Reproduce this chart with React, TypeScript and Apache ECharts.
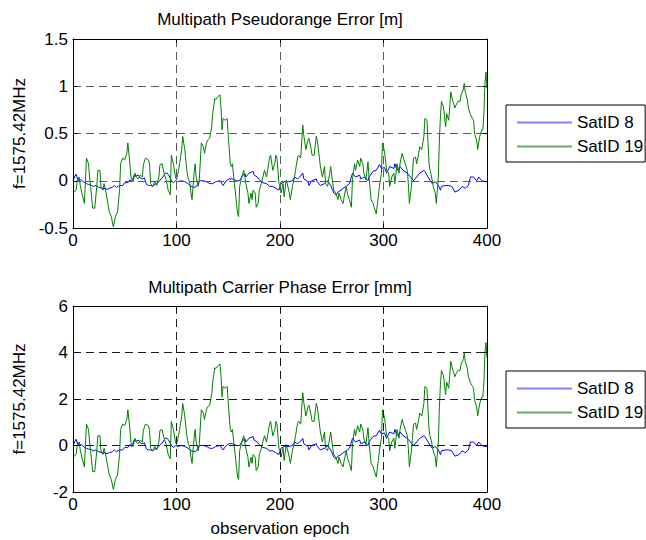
import React, { useEffect, useRef } from "react";
import * as echarts from "echarts";

// ---- data ----
const epochsGreen = [
  0, 3, 4, 6, 7, 9, 11, 13, 15, 16,
  17, 19, 21, 23, 24, 26, 27, 29, 30, 32,
  34, 35, 37, 39, 41, 43, 45, 46, 48, 50,
  52, 53, 55, 56, 58, 60, 61, 63, 65, 67,
  68, 70, 73, 74, 75, 77, 79, 81, 83, 84,
  86, 88, 90, 92, 94, 95, 97, 99, 100, 102,
  103, 105, 106, 108, 110, 111, 113, 114, 115, 117,
  118, 119, 121, 122, 124, 126, 127, 129, 130, 132,
  134, 135, 137, 138, 140, 142, 143, 144, 145, 147,
  149, 150, 152, 153, 154, 156, 158, 159, 160, 161,
  163, 165, 166, 167, 169, 170, 172, 173, 174, 176,
  177, 179, 180, 182, 183, 185, 187, 188, 190, 191,
  193, 195, 196, 197, 199, 200, 201, 203, 204, 206,
  207, 209, 210, 212, 214, 215, 217, 218, 220, 222,
  223, 225, 227, 228, 230, 231, 233, 235, 236, 238,
  239, 241, 243, 244, 246, 248, 249, 251, 252, 254,
  256, 257, 259, 261, 262, 264, 265, 267, 269, 270,
  272, 273, 275, 277, 278, 280, 281, 283, 285, 286,
  288, 290, 291, 293, 295, 296, 298, 299, 301, 303,
  305, 306, 308, 310, 311, 313, 315, 316, 318, 319,
  321, 323, 324, 325, 327, 328, 329, 331, 332, 334,
  335, 337, 339, 340, 342, 343, 344, 345, 347, 348,
  350, 351, 353, 354, 355, 356, 358, 360, 361, 363,
  364, 365, 367, 369, 370, 372, 374, 375, 377, 378,
  379, 381, 382, 384, 386, 387, 388, 390, 391, 393,
  395, 396, 397, 398, 399, 400,
];

const pseudoSat19 = [
  -0.13, -0.1, -0.01, 0.04, -0.05, -0.15, -0.24, 0.24, 0.18, 0.04,
  -0.06, -0.29, -0.29, -0.06, 0.11, 0.11, -0.06, -0.1, -0.03, -0.13,
  -0.26, -0.33, -0.38, -0.49, -0.38, -0.33, -0.1, 0.18, 0.24, 0.22,
  0.29, 0.4, 0.18, 0.04, -0.01, 0.08, 0.04, 0.02, 0.06, 0.04,
  0.17, 0.24, 0.22, 0.17, -0.03, -0.06, -0.01, -0.05, 0.04, 0.17,
  0.18, 0.08, 0.01, -0.1, -0.15, 0.27, 0.18, 0.04, 0.01, 0.11,
  0.18, 0.33, 0.47, 0.33, 0.11, 0.04, -0.03, -0.13, -0.2, 0.08,
  0.18, 0.04, -0.06, 0.01, 0.4, 0.36, 0.29, 0.4, 0.43, 0.45,
  0.57, 0.71, 0.87, 0.86, 0.89, 0.91, 0.78, 0.54, 0.66, 0.64,
  0.66, 0.47, 0.18, 0.15, 0.18, -0.03, -0.24, -0.35, -0.38, -0.06,
  0.04, 0.11, 0.04, -0.03, -0.13, -0.24, -0.13, -0.2, -0.1, -0.13,
  -0.28, -0.24, -0.1, -0.03, 0.02, 0.11, 0.04, 0.11, 0.25, 0.27,
  0.11, 0.18, 0.27, 0.25, -0.03, -0.06, -0.13, -0.03, -0.17, 0.01,
  -0.03, -0.13, -0.2, -0.06, 0.04, 0.11, 0.25, 0.27, 0.24, 0.59,
  0.48, 0.33, 0.43, 0.45, 0.34, 0.27, 0.27, 0.47, 0.43, 0.25,
  0.15, 0.04, 0.15, -0.03, -0.06, 0.08, 0.15, -0.03, -0.1, -0.13,
  -0.2, -0.13, -0.2, -0.24, -0.17, -0.06, -0.13, -0.2, -0.28, 0.01,
  0.18, 0.11, 0.22, 0.15, 0.24, 0.18, 0.08, 0.01, 0.2, 0.04,
  -0.2, -0.24, -0.28, -0.35, -0.17, -0.06, 0.08, 0.4, 0.31, 0.11,
  0.08, -0.06, 0.04, 0.08, -0.03, 0.18, 0.08, 0.18, 0.29, 0.25,
  0.18, 0.11, -0.03, -0.24, -0.06, 0.08, 0.24, 0.25, 0.18, 0.29,
  0.36, 0.33, 0.47, 0.66, 0.64, 0.4, 0.18, 0.11, 0.01, -0.06,
  -0.13, -0.24, 0.04, 0.43, 0.68, 0.84, 0.78, 0.57, 0.71, 0.64,
  0.78, 0.94, 0.84, 0.77, 0.8, 0.84, 0.84, 0.91, 0.96, 1.03,
  0.94, 0.86, 0.77, 0.7, 0.66, 0.64, 0.5, 0.43, 0.33, 0.47,
  0.54, 0.54, 0.71, 1.03, 1.15, 0.98,
];

const phaseSat19 = [
  -0.5, -0.39, -0.04, 0.15, -0.19, -0.58, -0.92, 0.92, 0.69, 0.15,
  -0.23, -1.12, -1.12, -0.23, 0.42, 0.42, -0.23, -0.39, -0.12, -0.5,
  -1.0, -1.27, -1.46, -1.89, -1.46, -1.27, -0.39, 0.69, 0.92, 0.85,
  1.12, 1.54, 0.69, 0.15, -0.04, 0.31, 0.15, 0.08, 0.23, 0.15,
  0.65, 0.92, 0.85, 0.65, -0.12, -0.23, -0.04, -0.19, 0.15, 0.65,
  0.69, 0.31, 0.04, -0.39, -0.58, 1.04, 0.69, 0.15, 0.04, 0.42,
  0.69, 1.27, 1.81, 1.27, 0.42, 0.15, -0.12, -0.5, -0.77, 0.31,
  0.69, 0.15, -0.23, 0.04, 1.54, 1.39, 1.12, 1.54, 1.66, 1.73,
  2.19, 2.73, 3.35, 3.31, 3.43, 3.5, 3.0, 2.08, 2.54, 2.46,
  2.54, 1.81, 0.69, 0.58, 0.69, -0.12, -0.92, -1.35, -1.46, -0.23,
  0.15, 0.42, 0.15, -0.12, -0.5, -0.92, -0.5, -0.77, -0.39, -0.5,
  -1.08, -0.92, -0.39, -0.12, 0.08, 0.42, 0.15, 0.42, 0.96, 1.04,
  0.42, 0.69, 1.04, 0.96, -0.12, -0.23, -0.5, -0.12, -0.65, 0.04,
  -0.12, -0.5, -0.77, -0.23, 0.15, 0.42, 0.96, 1.04, 0.92, 2.27,
  1.85, 1.27, 1.66, 1.73, 1.31, 1.04, 1.04, 1.81, 1.66, 0.96,
  0.58, 0.15, 0.58, -0.12, -0.23, 0.31, 0.58, -0.12, -0.39, -0.5,
  -0.77, -0.5, -0.77, -0.92, -0.65, -0.23, -0.5, -0.77, -1.08, 0.04,
  0.69, 0.42, 0.85, 0.58, 0.92, 0.69, 0.31, 0.04, 0.77, 0.15,
  -0.77, -0.92, -1.08, -1.35, -0.65, -0.23, 0.31, 1.54, 1.19, 0.42,
  0.31, -0.23, 0.15, 0.31, -0.12, 0.69, 0.31, 0.69, 1.12, 0.96,
  0.69, 0.42, -0.12, -0.92, -0.23, 0.31, 0.92, 0.96, 0.69, 1.12,
  1.39, 1.27, 1.81, 2.54, 2.46, 1.54, 0.69, 0.42, 0.04, -0.23,
  -0.5, -0.92, 0.15, 1.66, 2.62, 3.23, 3.0, 2.19, 2.73, 2.46,
  3.0, 3.62, 3.23, 2.96, 3.08, 3.23, 3.23, 3.5, 3.7, 3.97,
  3.62, 3.31, 2.96, 2.7, 2.54, 2.46, 1.93, 1.66, 1.27, 1.81,
  2.08, 2.08, 2.73, 3.97, 4.43, 3.77,
];

const epochsBlue = [
  0, 2, 3, 5, 8, 10, 13, 15, 18, 20,
  22, 25, 28, 30, 33, 35, 38, 40, 42, 45,
  48, 50, 53, 55, 57, 59, 61, 63, 65, 67,
  69, 71, 73, 75, 77, 79, 81, 83, 85, 87,
  89, 91, 93, 95, 97, 99, 101, 105, 108, 111,
  114, 118, 121, 122, 126, 129, 132, 135, 138, 142,
  145, 148, 151, 154, 158, 161, 163, 166, 167, 170,
  174, 175, 178, 180, 183, 187, 190, 193, 196, 199,
  201, 204, 209, 212, 214, 217, 220, 222, 223, 227,
  228, 230, 231, 235, 236, 239, 243, 246, 249, 252,
  254, 256, 259, 261, 264, 267, 269, 270, 273, 277,
  278, 282, 285, 286, 290, 293, 296, 298, 301, 303,
  306, 310, 311, 313, 316, 319, 323, 326, 329, 332,
  335, 339, 340, 344, 347, 350, 353, 355, 356, 360,
  363, 366, 369, 373, 376, 379, 382, 384, 387, 390,
  392, 395, 398, 400,
];

const pseudoSat8 = [
  0, 0.05, 0.07, 0, 0.01, -0.01, -0.03, -0.04, -0.05, -0.06,
  -0.05, -0.07, -0.08, -0.08, -0.09, -0.08, -0.07, -0.05, -0.07, -0.05,
  -0.05, -0.02, -0.02, 0.01, -0.01, 0.06, 0.05, 0.06, 0.03, 0.02,
  0.03, -0.04, -0.05, -0.05, -0.06, -0.04, -0.03, -0.01, 0.02, 0.04,
  0.08, 0.08, 0.05, 0, -0.02, 0, -0.01, 0, -0.01, -0.03,
  -0.06, -0.07, -0.03, 0, 0, -0.01, -0.03, -0.03, -0.01, 0,
  -0.05, 0, 0.02, 0.02, 0, 0, 0.04, 0.08, 0.04, 0.08,
  0.1, 0.06, 0.04, 0.01, -0.02, -0.03, -0.06, -0.06, -0.08, -0.1,
  -0.03, -0.01, -0.01, 0, 0.04, 0.02, 0.05, 0.08, 0.02, -0.01,
  -0.05, -0.01, 0, 0.02, -0.01, -0.05, -0.03, 0, -0.05, -0.13,
  -0.15, -0.12, -0.1, -0.08, -0.06, -0.03, 0.04, 0.08, 0.04, 0.06,
  0.02, 0.04, 0, 0.04, 0.1, 0.11, 0.17, 0.13, 0.14, 0.08,
  0.15, 0.13, 0.18, 0.11, 0.15, 0.11, 0.08, 0.04, 0, 0.04,
  0.08, 0.11, 0.1, 0.02, -0.03, -0.01, -0.05, -0.1, -0.06, -0.05,
  -0.05, -0.06, -0.12, -0.1, -0.06, -0.08, -0.05, 0.04, 0.04, 0,
  0.04, 0, -0.01, -0.01,
];

const phaseSat8 = [
  0, 0.19, 0.27, 0, 0.04, -0.04, -0.12, -0.15, -0.19, -0.23,
  -0.19, -0.27, -0.31, -0.31, -0.35, -0.31, -0.27, -0.19, -0.27, -0.19,
  -0.19, -0.08, -0.08, 0.04, -0.04, 0.23, 0.19, 0.23, 0.12, 0.08,
  0.12, -0.15, -0.19, -0.19, -0.23, -0.15, -0.12, -0.04, 0.08, 0.15,
  0.31, 0.31, 0.19, 0, -0.08, 0, -0.04, 0, -0.04, -0.12,
  -0.23, -0.27, -0.12, 0, 0, -0.04, -0.12, -0.12, -0.04, 0,
  -0.19, 0, 0.08, 0.08, 0, 0, 0.15, 0.31, 0.15, 0.31,
  0.39, 0.23, 0.15, 0.04, -0.08, -0.12, -0.23, -0.23, -0.31, -0.39,
  -0.12, -0.04, -0.04, 0, 0.15, 0.08, 0.19, 0.31, 0.08, -0.04,
  -0.19, -0.04, 0, 0.08, -0.04, -0.19, -0.12, 0, -0.19, -0.5,
  -0.58, -0.46, -0.39, -0.31, -0.23, -0.12, 0.15, 0.31, 0.15, 0.23,
  0.08, 0.15, 0, 0.15, 0.39, 0.42, 0.65, 0.5, 0.54, 0.31,
  0.58, 0.5, 0.69, 0.42, 0.58, 0.42, 0.31, 0.15, 0, 0.15,
  0.31, 0.42, 0.39, 0.08, -0.12, -0.04, -0.19, -0.39, -0.23, -0.19,
  -0.19, -0.23, -0.46, -0.39, -0.23, -0.31, -0.19, 0.15, 0.15, 0,
  0.15, 0, -0.04, -0.04,
];

const seriesNames = ["SatID 8", "SatID 19"];
const titles = ["Multipath Pseudorange Error [m]", "Multipath Carrier Phase Error [mm]"];
const yAxisName = "f=1575.42MHz";
const xAxisName = "observation epoch";
const xTicks = { min: 0, max: 400, interval: 100 };
const yTicksTop = { min: -0.5, max: 1.5, interval: 0.5 };
const yTicksBottom = { min: -2, max: 6, interval: 2 };

const FONT = "'Liberation Sans', Arial, Helvetica, sans-serif";
const FS = 17;
const BLUE = "#0000ff";
const GREEN = "#008000";
const LEGEND_BLUE = "#7f7fff";
const LEGEND_GREEN = "#6aa86a";

function pairs(xs: number[], ys: number[]) {
  const n = Math.min(xs.length, ys.length);
  const out: number[][] = [];
  for (let i = 0; i < n; i++) out.push([xs[i], ys[i]]);
  return out;
}

export default function App() {
  const ref = useRef<HTMLDivElement>(null);

  useEffect(() => {
    if (!ref.current) return;
    const chart = echarts.init(ref.current, null, { renderer: "svg" });

    const grids = [
      { left: 73, top: 39, width: 414, height: 189 },
      { left: 73, top: 306, width: 414, height: 186 },
    ];
    const gridColors = ["#5a5a5a", "#1a1a1a"];

    const xAxes: any[] = [];
    const yAxes: any[] = [];
    [0, 1].forEach((g) => {
      const yt = g === 0 ? yTicksTop : yTicksBottom;
      const split = {
        show: true,
        showMinLine: false,
        showMaxLine: false,
        lineStyle: { color: gridColors[g], type: [8, 5], width: 1 },
      };
      const line = { show: true, onZero: false, lineStyle: { color: "#000", width: 1 } };
      const tick = { show: true, inside: true, length: 4, lineStyle: { color: "#000" } };
      xAxes.push({
        type: "value",
        gridIndex: g,
        position: "bottom",
        ...xTicks,
        axisLine: line,
        axisTick: tick,
        axisLabel: { show: true, color: "#000", fontSize: FS, fontFamily: FONT, margin: 4 },
        splitLine: split,
        name: g === 1 ? xAxisName : "",
        nameLocation: "middle",
        nameGap: 28,
        nameTextStyle: { color: "#000", fontSize: FS, fontFamily: FONT },
        z: 5,
      });
      xAxes.push({
        type: "value",
        gridIndex: g,
        position: "top",
        ...xTicks,
        axisLine: line,
        axisTick: tick,
        axisLabel: { show: false },
        splitLine: { show: false },
        z: 5,
      });
      yAxes.push({
        type: "value",
        gridIndex: g,
        position: "left",
        ...yt,
        axisLine: line,
        axisTick: tick,
        axisLabel: { show: true, color: "#000", fontSize: FS, fontFamily: FONT, margin: 5 },
        splitLine: split,
        name: yAxisName,
        nameLocation: "middle",
        nameGap: 45,
        nameRotate: 90,
        nameTextStyle: { color: "#000", fontSize: FS, fontFamily: FONT },
        z: 5,
      });
      yAxes.push({
        type: "value",
        gridIndex: g,
        position: "right",
        ...yt,
        axisLine: line,
        axisTick: tick,
        axisLabel: { show: false },
        splitLine: { show: false },
        z: 5,
      });
    });

    const mkSeries = (name: string, color: string, data: number[][], g: number) => ({
      type: "line",
      name,
      xAxisIndex: g * 2,
      yAxisIndex: g * 2,
      data,
      symbol: "none",
      showSymbol: false,
      lineStyle: { color, width: 1 },
      itemStyle: { color },
      z: 3,
    });

    const legendCommon = {
      orient: "vertical",
      data: [
        { name: seriesNames[0], itemStyle: { color: LEGEND_BLUE } },
        { name: seriesNames[1], itemStyle: { color: LEGEND_GREEN } },
      ],
      icon: "rect",
      itemWidth: 55,
      itemHeight: 2,
      itemGap: 7,
      padding: [9, 2, 7, 11],
      borderColor: "#000",
      borderWidth: 1,
      borderRadius: 0,
      backgroundColor: "#fff",
      selectedMode: false,
      textStyle: { color: "#000", fontSize: FS, fontFamily: FONT, padding: [0, 0, 0, 0] },
    };

    const titleStyle = { color: "#000", fontSize: FS, fontWeight: "normal", fontFamily: FONT };

    chart.setOption({
      animation: false,
      backgroundColor: "#fff",
      title: [
        { text: titles[0], left: 280, top: 11, padding: 0, textAlign: "center", textStyle: titleStyle },
        { text: titles[1], left: 280, top: 279, padding: 0, textAlign: "center", textStyle: titleStyle },
      ],
      legend: [
        { ...legendCommon, left: 506, top: 105 },
        { ...legendCommon, left: 506, top: 371 },
      ],
      grid: grids,
      xAxis: xAxes,
      yAxis: yAxes,
      series: [
        mkSeries(seriesNames[0], BLUE, pairs(epochsBlue, pseudoSat8), 0),
        mkSeries(seriesNames[1], GREEN, pairs(epochsGreen, pseudoSat19), 0),
        mkSeries(seriesNames[0], BLUE, pairs(epochsBlue, phaseSat8), 1),
        mkSeries(seriesNames[1], GREEN, pairs(epochsGreen, phaseSat19), 1),
      ],
    });

    return () => chart.dispose();
  }, []);

  return (
    <div
      ref={ref}
      style={{ position: "fixed", left: 0, top: 0, width: 646, height: 540, background: "#fff" }}
    />
  );
}
